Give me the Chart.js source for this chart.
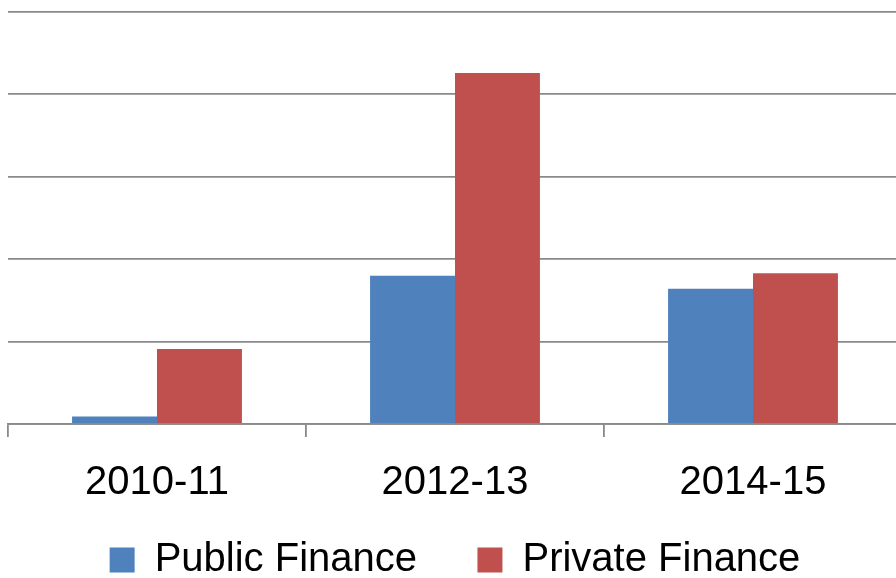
<!DOCTYPE html>
<html>
<head>
<meta charset="utf-8">
<script src="https://cdn.jsdelivr.net/npm/chart.js@4"></script>
<style>
  html, body { margin: 0; padding: 0; overflow: hidden; background: #fff; }
  #wrap { position: relative; width: 920px; height: 590px; }
</style>
</head>
<body>
<div id="wrap"><canvas id="c"></canvas></div>
<script>
const categories = ['2010-11', '2012-13', '2014-15'];
const publicFinance = [0.09, 1.80, 1.64];
const privateFinance = [0.91, 4.26, 1.83];
const yTicks = [0, 1, 2, 3, 4, 5];

const gridGrey = '#8a8a8a';
const fontFamily = '"Liberation Sans", Arial, sans-serif';

new Chart(document.getElementById('c'), {
    type: 'bar',
    data: {
        labels: categories,
        datasets: [
            { label: 'Public Finance', data: publicFinance, backgroundColor: '#4F81BD' },
            { label: 'Private Finance', data: privateFinance, backgroundColor: '#C0504D' }
        ]
    },
    options: {
        responsive: true, maintainAspectRatio: false, animation: false,
        devicePixelRatio: 1,
        layout: { padding: { left: 8, right: 18, top: 12, bottom: 0 } },
        datasets: { bar: { categoryPercentage: 0.57, barPercentage: 1.0 } },
        scales: {
            x: {
                offset: true,
                grid: { offset: true, drawOnChartArea: false, drawTicks: true, tickLength: 13, color: gridGrey, lineWidth: 1.8 },
                border: { display: true, color: gridGrey, width: 1.8 },
                ticks: { color: '#000', font: { family: fontFamily, size: 40 }, padding: 22, maxRotation: 0 },
                afterFit: s => { s.height = 100; }
            },
            y: {
                min: yTicks[0], max: yTicks[yTicks.length - 1],
                afterBuildTicks: s => { s.ticks = yTicks.map(v => ({ value: v })); },
                ticks: { display: false },
                grid: { drawTicks: false, color: gridGrey, lineWidth: 1.8 },
                border: { display: false },
                afterFit: s => { s.width = 0; }
            }
        },
        plugins: {
            legend: {
                position: 'bottom',
                labels: {
                    color: '#000', font: { family: fontFamily, size: 40 }, boxWidth: 25, boxHeight: 25, padding: 16,
                    // widen the gap after the first entry
                    generateLabels: chart => Chart.defaults.plugins.legend.labels.generateLabels(chart)
                        .map((l, i) => { if (i === 0) l.text = l.text + '    '; return l; })
                }
            },
            tooltip: { enabled: false }
        }
    }
});
</script>
</body>
</html>
